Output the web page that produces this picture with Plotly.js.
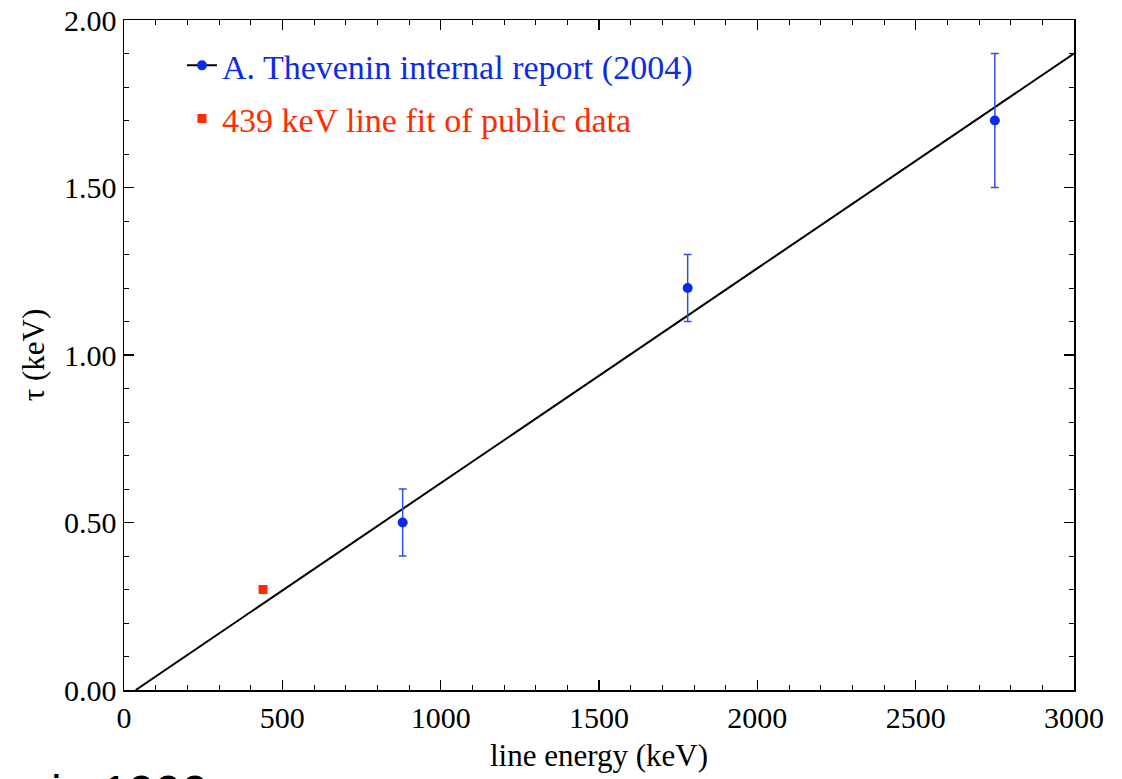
<!DOCTYPE html>
<html>
<head>
<meta charset="utf-8">
<script src="https://cdn.plot.ly/plotly-3.0.1.min.js"></script>
<style>html,body{margin:0;padding:0;background:#fff;}#chart{width:1122px;height:779px;}</style>
</head>
<body>
<div id="chart"></div>
<script>
// Data
const theveninEnergy = [880, null, 1780, null, 2750];
const theveninTau    = [0.50, null, 1.20, null, 1.70];
const theveninErr    = [0.10, null, 0.10, null, 0.20];
const publicEnergy = [439];
const publicTau    = [0.30];
const fitEnergy = [37, 3000];
const fitTau    = [0.00, 1.90];
const seriesNames = ['A. Thevenin internal report (2004)', '439 keV line fit of public data'];
const xTitle = 'line energy (keV)';
const yTitle = 'τ (keV)';
const cornerText = 'i&nbsp;&nbsp;&nbsp;1999';

const serif = 'Liberation Serif';
const blue = '#0a2ce6';
const red = '#ff2a00';

const traces = [
  {
    x: fitEnergy, y: fitTau, mode: 'lines', showlegend: false,
    line: {color: '#000', width: 2}, hoverinfo: 'skip'
  },
  {
    x: theveninEnergy, y: theveninTau, mode: 'lines+markers', connectgaps: false,
    name: seriesNames[0], legendgroup: 'a',
    line: {color: '#000', width: 2},
    marker: {color: blue, size: 10, symbol: 'circle'},
    error_y: {type: 'data', array: theveninErr, visible: true, color: '#3050ea', thickness: 1.5, width: 4}
  },
  {
    x: publicEnergy, y: publicTau, mode: 'markers',
    name: seriesNames[1], legendgroup: 'b',
    marker: {color: red, size: 9, symbol: 'square'}
  }
];

function axisCommon() {
  return {
    showgrid: false, zeroline: false, showline: true, linecolor: '#000', linewidth: 1.5,
    mirror: 'allticks', ticks: 'inside', ticklen: 10, tickwidth: 1.5, tickcolor: '#000',
    tickfont: {family: serif, size: 30, color: '#000'}
  };
}

const layout = {
  width: 1122, height: 779,
  margin: {l: 124, r: 48, t: 20, b: 89},
  paper_bgcolor: '#fff', plot_bgcolor: '#fff',
  font: {family: serif, color: '#000'},
  showlegend: true,
  legend: {
    x: 0.061, y: 0.975, xanchor: 'left', yanchor: 'top',
    bgcolor: 'rgba(0,0,0,0)', traceorder: 'grouped', tracegroupgap: 6,
    font: {family: serif, size: 34}
  },
  xaxis: Object.assign(axisCommon(), {
    range: [0, 3000], dtick: 500, tick0: 0,
    minor: {dtick: 100, ticks: 'inside', ticklen: 5, tickwidth: 1, tickcolor: '#000'},
    title: {text: xTitle, font: {family: serif, size: 31, color: '#000'}, standoff: 12}
  }),
  yaxis: Object.assign(axisCommon(), {
    range: [0, 2], dtick: 0.5, tick0: 0, tickformat: '.2f',
    minor: {dtick: 0.1, ticks: 'inside', ticklen: 5, tickwidth: 1, tickcolor: '#000'},
    title: {text: yTitle, font: {family: serif, size: 31, color: '#000'}, standoff: 10}
  }),
  annotations: [{
    xref: 'paper', yref: 'paper', x: -0.079, y: -0.1105, xanchor: 'left', yanchor: 'top',
    text: cornerText, showarrow: false,
    font: {family: 'Liberation Sans', size: 48, color: '#000'}
  }]
};

Plotly.newPlot('chart', traces, layout, {displayModeBar: false, staticPlot: true}).then(function () {
  const texts = document.querySelectorAll('.legendtext');
  if (texts[0]) texts[0].style.fill = blue;
  if (texts[1]) texts[1].style.fill = red;
  document.querySelectorAll('.xtick text, .ytick text').forEach(function (t) {
    t.style.fontFamily = '"Liberation Serif", serif';
  });
});
</script>
</body>
</html>
